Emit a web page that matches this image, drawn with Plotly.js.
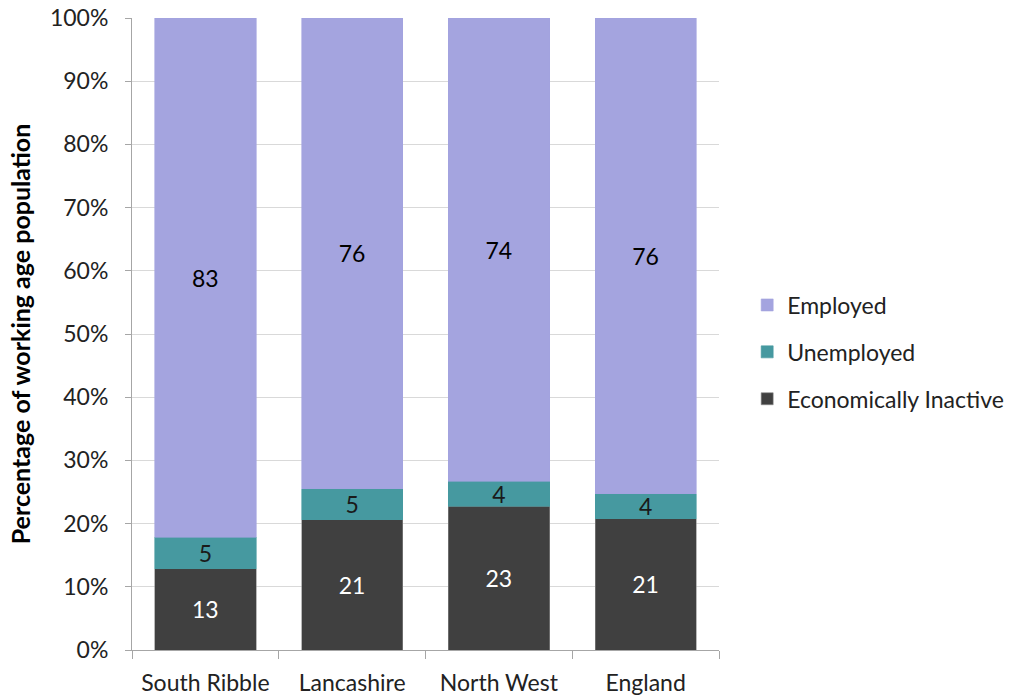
<!DOCTYPE html>
<html>
<head>
<meta charset="utf-8">
<script src="https://cdn.plot.ly/plotly-3.0.1.min.js"></script>
<style>html,body{margin:0;padding:0;background:#fff;}#chart{width:1029px;height:696px;}</style>
</head>
<body>
<div id="chart"></div>
<script>
const categories = ["South Ribble", "Lancashire", "North West", "England"];
const inactive = [13, 21, 23, 21];
const unemployed = [5, 5, 4, 4];
const employed = [83, 76, 74, 76];
const seriesNames = ["Economically Inactive", "Unemployed", "Employed"];
const colors = ["#404040", "#4699A0", "#A4A4DF"];
const textColors = ["#ffffff", "#1a1a1a", "#000000"];
const legendRanks = [3, 2, 1];
const yTickVals = [0,10,20,30,40,50,60,70,80,90,100];
const yTickText = yTickVals.map(v => v + "%");

const FONT = "Lato, 'Open Sans', sans-serif";
const series = [inactive, unemployed, employed];
const traces = series.map((vals, i) => ({
  type: "bar",
  name: seriesNames[i],
  x: categories,
  y: vals,
  text: vals.map(String),
  texttemplate: "%{text}",
  textposition: "inside",
  insidetextanchor: "middle",
  textangle: 0,
  textfont: {family: FONT, size: 23, color: textColors[i]},
  marker: {color: colors[i], line: {color: i === 0 ? "#8a8a8a" : colors[i], width: 0.6}},
  legendgroup: "g" + i,
  legendrank: legendRanks[i],
  hoverinfo: "skip"
}));

const layout = {
  width: 1029, height: 696,
  margin: {l: 132, r: 310, t: 18, b: 46},
  barmode: "stack",
  barnorm: "percent",
  bargap: 0.31,
  paper_bgcolor: "#fff",
  plot_bgcolor: "#fff",
  font: {family: FONT, size: 23, color: "#222"},
  uniformtext: {mode: "show", minsize: 23},
  showlegend: true,
  legend: {
    x: 1.048, xanchor: "left", y: 0.4715, yanchor: "middle",
    traceorder: "grouped",
    tracegroupgap: 14,
    font: {family: FONT, size: 23, color: "#222"},
    itemwidth: 30
  },
  xaxis: {
    type: "category",
    showline: true, linecolor: "#a6a6a6", linewidth: 1,
    ticks: "outside", tickson: "boundaries", ticklen: 8, tickcolor: "#a6a6a6",
    ticklabelstandoff: 12,
    tickfont: {family: FONT, size: 23, color: "#222"},
    showgrid: false, zeroline: false
  },
  yaxis: {
    range: [0, 100],
    tickvals: yTickVals, ticktext: yTickText,
    showline: true, linecolor: "#a6a6a6", linewidth: 1,
    ticks: "outside", ticklen: 6, tickcolor: "#a6a6a6",
    ticklabelstandoff: 12,
    showgrid: true, gridcolor: "#d9d9d9", gridwidth: 1,
    zeroline: false,
    tickfont: {family: FONT, size: 23, color: "#222"},
    automargin: false,
    title: {text: "Percentage of working age population", font: {family: FONT, size: 25, color: "#000", weight: "bold"}, standoff: 12}
  }
};

Plotly.newPlot("chart", traces, layout, {displayModeBar: false, staticPlot: true});
</script>
</body>
</html>
